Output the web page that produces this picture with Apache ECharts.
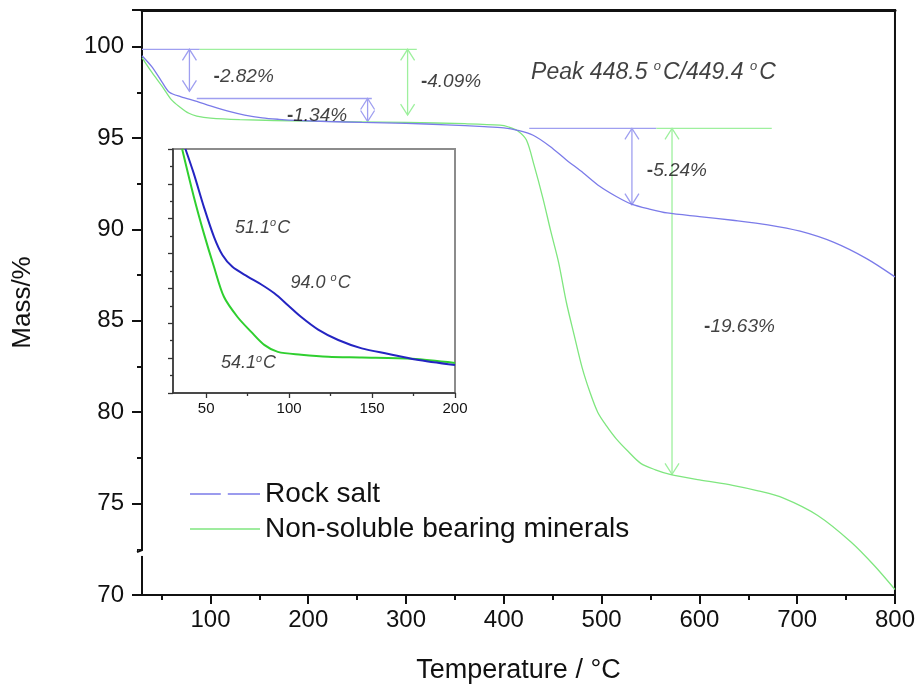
<!DOCTYPE html>
<html>
<head>
<meta charset="utf-8">
<script src="https://cdn.jsdelivr.net/npm/echarts@6/dist/echarts.min.js"></script>
<style>
  html, body { margin: 0; padding: 0; background: #fff; }
  #chart { width: 918px; height: 689px; }
</style>
</head>
<body>
<div id="chart"></div>
<script>
// ---- TGA curves (temperature in °C, residual mass in %) ----
const rockSaltT = [30, 40, 50, 58, 70, 86, 100, 119, 135, 153, 170, 188, 220, 255, 300, 341, 380, 400, 414, 430, 447, 464, 481, 498, 515, 530, 550, 567, 600, 634, 670, 703, 737, 771, 800];
const rockSaltMass = [99.5, 98.9, 98.1, 97.5, 97.25, 97.0, 96.75, 96.45, 96.25, 96.1, 96.02, 95.96, 95.9, 95.85, 95.8, 95.72, 95.62, 95.55, 95.42, 95.15, 94.55, 93.8, 93.1, 92.36, 91.8, 91.4, 91.1, 90.9, 90.7, 90.5, 90.25, 89.9, 89.3, 88.4, 87.4];

const mineralsT = [30, 40, 51, 60, 68.6, 78, 86, 100, 130, 200, 300, 360, 396, 405, 414, 423, 431, 440, 448, 456, 464, 472, 480, 488, 496, 505, 515, 527, 540, 555, 570, 600, 634, 660, 686, 721, 755, 779, 800];
const mineralsMass = [99.4, 98.6, 97.8, 97.1, 96.7, 96.35, 96.2, 96.08, 96.0, 95.92, 95.85, 95.78, 95.7, 95.6, 95.4, 94.9, 93.5, 91.7, 89.9, 88.2, 86.0, 84.2, 82.45, 81.1, 80.0, 79.25, 78.54, 77.86, 77.2, 76.85, 76.6, 76.3, 76.0, 75.7, 75.3, 74.35, 72.9, 71.6, 70.3];

// ---- inset: 30-200 °C region, magnified ----
const insetRockT = [37.5, 42.5, 48.6, 54.7, 59.8, 65.8, 75, 83, 91.1, 99.3, 107.3, 117.5, 129.6, 143.8, 160, 176.2, 200];
const insetRockMass = [99.0, 98.65, 98.17, 97.74, 97.48, 97.31, 97.17, 97.06, 96.93, 96.76, 96.59, 96.41, 96.26, 96.14, 96.06, 95.98, 95.9];
const insetMinT = [35.5, 42.5, 48.6, 54.7, 60.7, 68.9, 77, 85, 93.2, 107.3, 123.6, 143.8, 174.2, 200];
const insetMinMass = [99.0, 98.32, 97.79, 97.31, 96.88, 96.59, 96.38, 96.19, 96.09, 96.05, 96.02, 96.01, 95.99, 95.93];

// ---- axis ticks ----
const mainTickValues = [100, 200, 300, 400, 500, 600, 700, 800];
const mainMinorTickValues = [50, 150, 250, 350, 450, 550, 650, 750];
const insetTickValues = [50, 100, 150, 200];
const insetMinorTickValues = [75, 125, 175];

// ---- mass-loss guides: horizontal [T1, mass, T2, mass, 0], vertical arrows [T, mass1, mass2, T, 1] ----
const blueGuides = [
  [30, 99.85, 89, 99.85, 0],
  [86, 97.16, 265, 97.16, 0],
  [78.5, 99.85, 97.55, 78.5, 1],
  [260.7, 97.16, 95.9, 260.7, 1],
  [426, 95.52, 556, 95.52, 0],
  [531, 95.52, 91.35, 531, 1]
];
const greenGuides = [
  [89, 99.85, 311, 99.85, 0],
  [301.6, 99.85, 96.25, 301.6, 1],
  [556, 95.52, 674, 95.52, 0],
  [572, 95.52, 76.6, 572, 1]
];

// ---- annotation texts ----
const lossLabelT = [134, 209, 346, 577, 641];
const lossLabelMass = [98.34, 96.2, 98.07, 93.2, 84.7];
const lossLabelText = ['2.82%', '1.34%', '4.09%', '5.24%', '19.63%'];
const peakLabel = { t: 553, m: 98.6, parts: ['Peak 448.5 ', 'C/449.4 ', 'C'] };
const insetLabelT = [84, 119, 75.5];
const insetLabelMass = [97.87, 97.08, 95.93];
const insetLabelText = ['51.1', '94.0 ', '54.1'];

const FONT = "'Liberation Sans', Arial, Helvetica, sans-serif";
const BLUE = '#7b7be9';
const GREEN = '#7fe67f';
const BLUE_GUIDE = '#9f9ff0';
const GREEN_GUIDE = '#9ef09e';
const INK = '#111';

function zip(xs, ys) { return xs.map((x, i) => [x, ys[i]]); }
// vertical arrows are stored as [T, mass1, mass2, T]; normalise to [x1, y1, x2, y2, flag]
function guideRows(rows) {
  return rows.map(r => r[4] ? [r[0], r[1], r[3], r[2], 1] : r);
}

function renderGuide(params, api) {
  const a = api.coord([api.value(0), api.value(1)]);
  const b = api.coord([api.value(2), api.value(3)]);
  const color = api.visual('color');
  const children = [{
    type: 'line',
    shape: { x1: a[0], y1: a[1], x2: b[0], y2: b[1] },
    style: { stroke: color, lineWidth: 1.3 }
  }];
  if (api.value(4)) {
    const dx = b[0] - a[0], dy = b[1] - a[1];
    const L = Math.hypot(dx, dy) || 1;
    const ux = dx / L, uy = dy / L, w = 7, h = 11;
    const head = (p, sx, sy) => ({
      type: 'polyline',
      shape: { points: [
        [p[0] + sx * h - sy * w, p[1] + sy * h + sx * w],
        [p[0], p[1]],
        [p[0] + sx * h + sy * w, p[1] + sy * h - sx * w]
      ] },
      style: { stroke: color, fill: null, lineWidth: 1.3 }
    });
    children.push(head(a, ux, uy));
    children.push(head(b, -ux, -uy));
  }
  return { type: 'group', children };
}

const textRich = {
  m: { fontFamily: FONT, fontSize: 19, fontWeight: 'bold', color: INK },
  t: { fontFamily: FONT, fontSize: 19, fontStyle: 'italic', color: INK },
  p: { fontFamily: FONT, fontSize: 23, fontStyle: 'italic', color: INK },
  s: { fontFamily: FONT, fontSize: 13, fontStyle: 'italic', color: INK, padding: [0, 2, 12, 0] },
  it: { fontFamily: FONT, fontSize: 18, fontStyle: 'italic', color: INK },
  is: { fontFamily: FONT, fontSize: 11, fontStyle: 'italic', color: INK, padding: [0, 1, 9, 0] }
};

const lossLabelData = lossLabelT.map((t, i) => ({
  value: [t, lossLabelMass[i]],
  label: { formatter: '{m|-}{t|' + lossLabelText[i] + '}' }
}));
lossLabelData.push({
  value: [peakLabel.t, peakLabel.m],
  label: { formatter: '{p|' + peakLabel.parts[0] + '}{s|o}{p|' + peakLabel.parts[1] + '}{s|o}{p|' + peakLabel.parts[2] + '}' }
});

const insetLabelData = insetLabelT.map((t, i) => ({
  value: [t, insetLabelMass[i]],
  label: { formatter: '{it|' + insetLabelText[i] + '}{is|o}{it|C}' }
}));

const axisText = { fontFamily: FONT, color: INK };

const chart = echarts.init(document.getElementById('chart'), null, { renderer: 'canvas' });

const option = {
  backgroundColor: '#fff',
  animation: false,
  textStyle: { fontFamily: FONT },
  grid: [
    { left: 142, top: 10, width: 753, height: 585, show: true, borderColor: INK, borderWidth: 2, backgroundColor: 'transparent' },
    { left: 173, top: 149, width: 282, height: 244, show: true, borderColor: '#8c8c8c', borderWidth: 2, backgroundColor: '#fff', z: 3 }
  ],
  legend: {
    orient: 'vertical',
    left: 185,
    top: 475,
    itemWidth: 70,
    itemHeight: 2,
    itemGap: 7,
    textStyle: { fontFamily: FONT, fontSize: 28, color: INK },
    data: [
      { name: 'Rock salt', icon: 'path://M0,0H44V2H0Z M54,0H100V2H54Z', itemStyle: { color: BLUE } },
      { name: 'Non-soluble bearing minerals', icon: 'path://M0,0H100V2H0Z', itemStyle: { color: GREEN } }
    ]
  },
  xAxis: [
    {
      gridIndex: 0, type: 'value', min: 30, max: 800, position: 'bottom',
      name: 'Temperature / °C', nameLocation: 'middle', nameGap: 62,
      nameTextStyle: { fontFamily: FONT, fontSize: 27, color: INK },
      axisLine: { onZero: false, lineStyle: { color: INK, width: 2 } },
      axisTick: { customValues: mainTickValues, length: 9, lineStyle: { color: INK, width: 2 } },
      axisLabel: { customValues: mainTickValues, fontSize: 24, margin: 13, ...axisText },
      splitLine: { show: false }
    },
    {
      gridIndex: 0, type: 'value', min: 30, max: 800, position: 'bottom',
      axisLine: { show: false, onZero: false },
      axisTick: { customValues: mainMinorTickValues, length: 5, lineStyle: { color: INK, width: 2 } },
      axisLabel: { show: false },
      splitLine: { show: false }
    },
    {
      gridIndex: 0, type: 'value', min: 30, max: 800, position: 'top',
      axisLine: { onZero: false, lineStyle: { color: INK, width: 3 } },
      axisTick: { show: false }, axisLabel: { show: false }, splitLine: { show: false }
    },
    {
      gridIndex: 1, type: 'value', min: 30, max: 200, position: 'bottom',
      axisLine: { onZero: false, lineStyle: { color: '#333', width: 1.5 } },
      axisTick: { customValues: insetTickValues, length: 5, lineStyle: { color: '#333', width: 1.3 } },
      axisLabel: { customValues: insetTickValues, fontSize: 15, margin: 8, ...axisText },
      splitLine: { show: false }, z: 4
    },
    {
      gridIndex: 1, type: 'value', min: 30, max: 200, position: 'bottom',
      axisLine: { show: false, onZero: false },
      axisTick: { customValues: insetMinorTickValues, length: 3, lineStyle: { color: '#333', width: 1.3 } },
      axisLabel: { show: false }, splitLine: { show: false }, z: 4
    }
  ],
  yAxis: [
    {
      gridIndex: 0, type: 'value', min: 70, max: 102, interval: 5,
      name: 'Mass/%', nameLocation: 'middle', nameGap: 106, nameRotate: 90,
      nameTextStyle: { fontFamily: FONT, fontSize: 26, color: INK },
      axisLine: { onZero: false, lineStyle: { color: INK, width: 2 } },
      axisTick: { length: 10, lineStyle: { color: INK, width: 2 } },
      minorTick: { show: true, splitNumber: 2, length: 5, lineStyle: { color: INK, width: 2 } },
      axisLabel: { fontSize: 24, margin: 18, showMaxLabel: false, ...axisText },
      splitLine: { show: false }
    },
    {
      gridIndex: 1, type: 'value', min: 95.5, max: 99, interval: 0.5,
      axisLine: { onZero: false, lineStyle: { color: '#333', width: 1.5 } },
      axisTick: { length: 5, lineStyle: { color: '#333', width: 1.3 } },
      minorTick: { show: true, splitNumber: 2, length: 3, lineStyle: { color: '#333', width: 1.3 } },
      axisLabel: { show: false },
      splitLine: { show: false }, z: 4
    }
  ],
  series: [
    {
      type: 'custom', name: 'guides-blue', xAxisIndex: 0, yAxisIndex: 0,
      renderItem: renderGuide, itemStyle: { color: BLUE_GUIDE },
      data: guideRows(blueGuides), silent: true, z: 1
    },
    {
      type: 'custom', name: 'guides-green', xAxisIndex: 0, yAxisIndex: 0,
      renderItem: renderGuide, itemStyle: { color: GREEN_GUIDE },
      data: guideRows(greenGuides), silent: true, z: 1
    },
    {
      name: 'Non-soluble bearing minerals', type: 'line', xAxisIndex: 0, yAxisIndex: 0,
      data: zip(mineralsT, mineralsMass), smooth: 0.3, symbol: 'none',
      lineStyle: { color: GREEN, width: 1.3 }, itemStyle: { color: GREEN }, z: 2
    },
    {
      name: 'Rock salt', type: 'line', xAxisIndex: 0, yAxisIndex: 0,
      data: zip(rockSaltT, rockSaltMass), smooth: 0.3, symbol: 'none',
      lineStyle: { color: BLUE, width: 1.3 }, itemStyle: { color: BLUE }, z: 2
    },
    {
      type: 'scatter', name: 'loss-labels', xAxisIndex: 0, yAxisIndex: 0,
      symbolSize: 0, silent: true, data: lossLabelData,
      label: { show: true, position: 'inside', rich: textRich }, z: 5
    },
    {
      type: 'line', name: 'inset-minerals', xAxisIndex: 3, yAxisIndex: 1,
      data: zip(insetMinT, insetMinMass), smooth: 0.3, symbol: 'none',
      lineStyle: { color: '#2fcf2f', width: 2 }, z: 6
    },
    {
      type: 'line', name: 'inset-rock', xAxisIndex: 3, yAxisIndex: 1,
      data: zip(insetRockT, insetRockMass), smooth: 0.3, symbol: 'none',
      lineStyle: { color: '#2424c2', width: 2 }, z: 6
    },
    {
      type: 'scatter', name: 'inset-labels', xAxisIndex: 3, yAxisIndex: 1,
      symbolSize: 0, silent: true, data: insetLabelData,
      label: { show: true, position: 'inside', rich: textRich }, z: 7
    }
  ]
};

chart.setOption(option);

// small break mark on the mass axis, placed through the axis scale
const breakY = chart.convertToPixel({ yAxisIndex: 0 }, 72.3);
const axisX = chart.convertToPixel({ xAxisIndex: 0 }, 30);
chart.setOption({
  graphic: [
    { type: 'rect', shape: { x: axisX - 4, y: breakY - 3, width: 8, height: 6 }, style: { fill: '#fff' }, z: 100 },
    { type: 'polyline', shape: { points: [[axisX, breakY - 8], [axisX, breakY - 3], [axisX - 5, breakY - 1]] }, style: { stroke: INK, lineWidth: 2, fill: null }, z: 101 }
  ]
});
</script>
</body>
</html>
